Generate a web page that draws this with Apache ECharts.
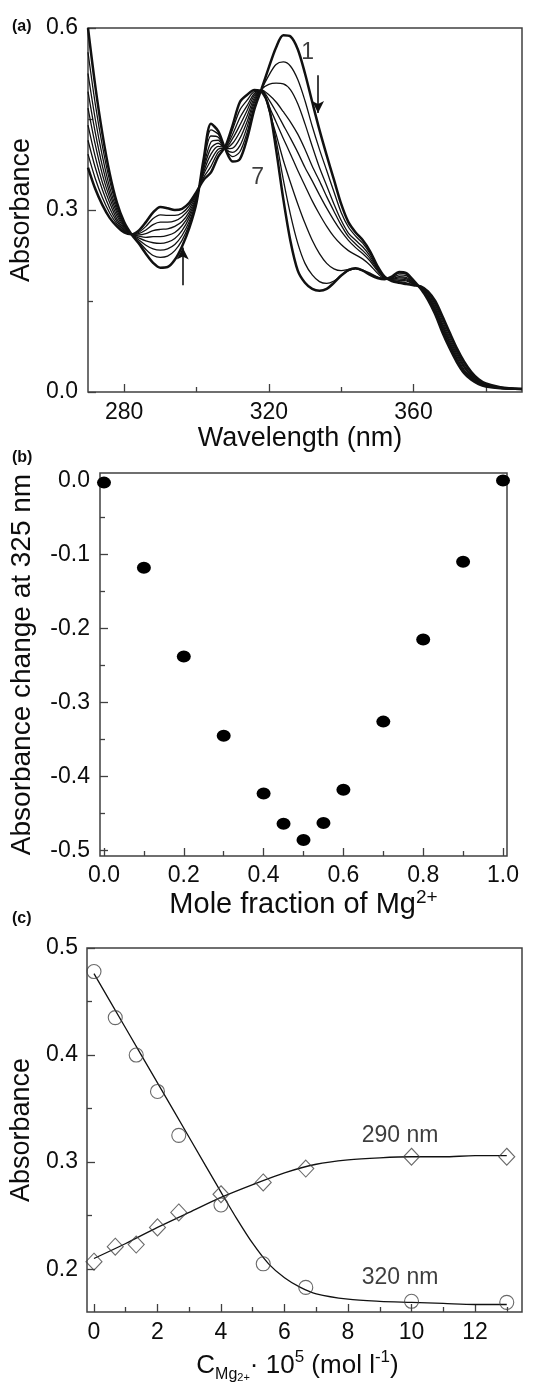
<!DOCTYPE html>
<html><head><meta charset="utf-8">
<script src="https://cdn.jsdelivr.net/npm/echarts@6/dist/echarts.min.js"></script>
<style>html,body{margin:0;padding:0;background:#fff}#c{width:536px;height:1387px}</style>
</head><body><div id="c"></div>
<script>
// ---------- Panel (a): UV-Vis spectra ----------
const wl = [270,272,274,276,278,280,282,284,286,288,290,292,294,296,298,300,302,304,306,308,310,312,314,316,318,320,322,324,326,328,330,332,334,336,338,340,342,344,346,348,350,352,354,356,358,360,362,364,366,368,370,372,374,376,378,380,384,390];
const spec1 = [.600,.505,.425,.360,.312,.280,.260,.245,.228,.213, .205,.206,.218,.240,.270,.312,.385,.442,.430,.400, .380,.384,.418,.466,.500,.535,.568,.588,.586,.565, .525,.478,.432,.390,.350,.310,.280,.263,.250,.232, .208,.190,.183,.180,.178,.176,.174,.166,.150,.125, .098,.072,.050,.033,.021,.014, .008,.005];
const spec2 = [.560,.475,.405,.348,.305,.277,.260,.248,.235,.225, .222,.224,.233,.250,.276,.314,.381,.432,.425,.400, .388,.396,.428,.472,.499,.522,.540,.544,.537,.515, .480,.438,.400,.365,.330,.296,.272,.257,.245,.228, .206,.189,.184,.182,.180,.177,.174,.164,.147,.121, .094,.068,.047,.031,.020,.013, .008,.005];
const spec3 = [.525,.450,.388,.337,.300,.275,.260,.251,.242,.236, .234,.236,.243,.258,.281,.316,.377,.422,.420,.401, .395,.406,.437,.477,.499,.507,.509,.508,.498,.475, .442,.405,.370,.340,.310,.283,.262,.250,.239,.224, .204,.188,.185,.184,.183,.178,.173,.163,.144,.117, .090,.065,.044,.029,.019,.013, .007,.005];
const spec4 = [.495,.428,.372,.328,.295,.273,.260,.254,.249,.246, .245,.247,.253,.266,.287,.318,.372,.412,.415,.401, .402,.418,.446,.481,.498,.490,.478,.462,.445,.425, .400,.372,.348,.322,.298,.275,.256,.244,.233,.220, .202,.188,.186,.186,.185,.178,.173,.161,.141,.113, .086,.062,.042,.027,.018,.012, .007,.005];
const spec5 = [.468,.408,.358,.320,.290,.271,.260,.257,.255,.256, .256,.258,.263,.274,.292,.320,.368,.402,.410,.402, .410,.429,.455,.485,.498,.482,.462,.440,.418,.395, .370,.348,.325,.303,.283,.265,.250,.238,.228,.216, .200,.188,.186,.188,.187,.179,.172,.159,.138,.110, .083,.059,.040,.026,.017,.011, .007,.005];
const spec6 = [.440,.388,.345,.312,.285,.269,.260,.259,.261,.266, .268,.269,.273,.281,.297,.322,.363,.392,.405,.403, .418,.440,.464,.489,.497,.472,.445,.418,.392,.365, .340,.315,.293,.273,.256,.243,.233,.226,.219,.209, .196,.187,.187,.190,.189,.180,.172,.158,.136,.107, .080,.056,.037,.024,.016,.011, .006,.005];
const spec7 = [.415,.370,.333,.303,.281,.267,.260,.261,.267,.276, .280,.280,.282,.289,.302,.325,.359,.382,.400,.403, .425,.452,.472,.492,.497,.465,.425,.382,.345,.310, .278,.250,.228,.212,.203,.200,.202,.204,.201,.196, .190,.186,.188,.193,.192,.181,.171,.156,.133,.104, .077,.054,.035,.023,.015,.010, .006,.005];
const spec8 = [.392,.352,.320,.295,.277,.265,.260,.263,.273,.286, .292,.291,.291,.295,.307,.327,.354,.372,.395,.404, .433,.465,.481,.495,.496,.468,.415,.350,.292,.245, .212,.193,.182,.179,.183,.192,.200,.203,.200,.194, .189,.186,.189,.196,.194,.182,.171,.154,.131,.101, .075,.051,.033,.021,.014,.010, .006,.005];
const spec9 = [.370,.335,.308,.287,.273,.263,.260,.266,.280,.296, .305,.303,.300,.302,.312,.330,.350,.362,.388,.405, .440,.478,.490,.498,.495,.470,.400,.318,.248,.200, .180,.170,.167,.170,.180,.192,.201,.204,.200,.193, .188,.186,.190,.198,.196,.184,.170,.152,.128,.098, .072,.049,.031,.020,.013,.009, .006,.005];
const wlMajor = [280, 320, 360];
const wlMinor = [300, 340, 380];
const absMajorA = [0, 0.3, 0.6];
const absMinorA = [0.15, 0.45];

// ---------- Panel (b): Job plot ----------
const molFrac = [0, 0.1, 0.2, 0.3, 0.4, 0.45, 0.5, 0.55, 0.6, 0.7, 0.8, 0.9, 1.0];
const absChange = [-0.003, -0.118, -0.238, -0.345, -0.423, -0.464, -0.486, -0.463, -0.418, -0.326, -0.215, -0.110, 0.0];
const fracMajor = [0, 0.2, 0.4, 0.6, 0.8, 1.0];
const fracMinor = [0.1, 0.3, 0.5, 0.7, 0.9];
const dMajor = [0, -0.1, -0.2, -0.3, -0.4, -0.5];
const dMinor = [-0.05, -0.15, -0.25, -0.35, -0.45];

// ---------- Panel (c): titration ----------
const concMg = [0, 0.67, 1.33, 2, 2.67, 4, 5.33, 6.67, 10, 13];
const abs320 = [0.478, 0.435, 0.400, 0.366, 0.325, 0.260, 0.205, 0.183, 0.170, 0.169];
const abs290 = [0.207, 0.221, 0.223, 0.239, 0.253, 0.270, 0.281, 0.294, 0.305, 0.305];
const fit320X = [0, 1, 2, 3, 4, 4.5, 5, 5.5, 6, 6.5, 7, 8, 9, 10, 11, 12, 13];
const fit320Y = [0.476, 0.425, 0.374, 0.323, 0.272, 0.247, 0.224, 0.205, 0.192, 0.183, 0.177, 0.172, 0.170, 0.169, 0.168, 0.167, 0.167];
const fit290X = [0, 1, 2, 3, 4, 5, 6, 7, 8, 9, 10, 11, 12, 13];
const fit290Y = [0.210, 0.224, 0.239, 0.253, 0.267, 0.279, 0.290, 0.298, 0.302, 0.304, 0.305, 0.305, 0.306, 0.306];
const concMajor = [0, 2, 4, 6, 8, 10, 12];
const concMinor = [1, 3, 5, 7, 9, 11, 13];
const absMajorC = [0.2, 0.3, 0.4, 0.5];
const absMinorC = [0.25, 0.35, 0.45];

const FONT = '"Liberation Sans", Arial, Helvetica, sans-serif';
const INK = '#0d0d0d';
const FRAME = '#404040';

function majorAxis(o) {
  return Object.assign({
    type: 'value', axisLine: {show: false, onZero: false}, splitLine: {show: false},
    axisTick: {inside: true, length: 8, customValues: o.ticks, lineStyle: {color: FRAME, width: 1.3}},
    axisLabel: {customValues: o.ticks, fontSize: 23, color: INK, fontFamily: FONT, margin: o.margin || 9,
      formatter: o.fmt},
    nameTextStyle: {fontSize: 27, color: INK, fontFamily: FONT}
  }, o.extra);
}
function minorAxis(o) {
  return Object.assign({
    type: 'value', axisLine: {show: false, onZero: false}, splitLine: {show: false},
    axisTick: {inside: true, length: 5, customValues: o.ticks, lineStyle: {color: FRAME, width: 1.3}},
    axisLabel: {show: false}
  }, o.extra);
}
const f1 = v => v.toFixed(1);
const f0 = v => String(Math.round(v));

const xAxis = [
  majorAxis({ticks: wlMajor, fmt: f0, extra: {gridIndex: 0, min: 270, max: 390, position: 'bottom',
    name: 'Wavelength (nm)', nameLocation: 'middle', nameGap: 31}}),
  minorAxis({ticks: wlMinor, extra: {gridIndex: 0, min: 270, max: 390, position: 'bottom'}}),
  majorAxis({ticks: fracMajor, fmt: f1, margin: 8, extra: {gridIndex: 1, min: -0.01, max: 1.01, position: 'bottom',
    name: 'Mole fraction of Mg{sup|2+}', nameLocation: 'middle', nameGap: 31}}),
  minorAxis({ticks: fracMinor, extra: {gridIndex: 1, min: -0.01, max: 1.01, position: 'bottom'}}),
  majorAxis({ticks: concMajor, fmt: f0, extra: {gridIndex: 2, min: -0.22, max: 13.48, position: 'bottom',
    name: '{b|C}{sub|Mg}{subsup|2+}{b|· 10}{sup|5}{b| (mol l}{sup|-1}{b|)}', nameLocation: 'middle', nameGap: 37}}),
  minorAxis({ticks: concMinor, extra: {gridIndex: 2, min: -0.22, max: 13.48, position: 'bottom'}})
];
xAxis[0].nameTextStyle.padding = [0, 10, 0, 0];
xAxis[2].nameTextStyle.fontSize = 29;
xAxis[2].nameTextStyle.lineHeight = 34;
xAxis[2].nameTextStyle.rich = {sup: {fontSize: 19, verticalAlign: 'top', lineHeight: 18, color: INK, fontFamily: FONT}};
xAxis[4].nameTextStyle = {fontSize: 26, color: INK, fontFamily: FONT, lineHeight: 34, padding: [0, 14, 0, 0],
  rich: {
    b: {fontSize: 26, lineHeight: 34, color: INK, fontFamily: FONT},
    sub: {fontSize: 16, lineHeight: 16, verticalAlign: 'bottom', color: INK, fontFamily: FONT},
    subsup: {fontSize: 11, lineHeight: 30, verticalAlign: 'bottom', color: INK, fontFamily: FONT},
    sup: {fontSize: 17, lineHeight: 16, verticalAlign: 'top', color: INK, fontFamily: FONT}
  }};

const yAxis = [
  majorAxis({ticks: absMajorA, fmt: f1, margin: 10, extra: {gridIndex: 0, min: 0, max: 0.6, position: 'left',
    name: 'Absorbance', nameLocation: 'middle', nameRotate: 90, nameGap: 52}}),
  minorAxis({ticks: absMinorA, extra: {gridIndex: 0, min: 0, max: 0.6, position: 'left'}}),
  majorAxis({ticks: dMajor, fmt: f1, margin: 10, extra: {gridIndex: 1, min: -0.5076, max: 0.01, position: 'left',
    name: 'Absorbance change at 325 nm', nameLocation: 'middle', nameRotate: 90, nameGap: 64}}),
  minorAxis({ticks: dMinor, extra: {gridIndex: 1, min: -0.5076, max: 0.01, position: 'left'}}),
  majorAxis({ticks: absMajorC, fmt: f1, margin: 9, extra: {gridIndex: 2, min: 0.16, max: 0.5, position: 'left',
    name: 'Absorbance', nameLocation: 'middle', nameRotate: 90, nameGap: 51}}),
  minorAxis({ticks: absMinorC, extra: {gridIndex: 2, min: 0.16, max: 0.5, position: 'left'}})
];
yAxis[2].nameTextStyle.fontSize = 28;

const specs = [spec1, spec2, spec3, spec4, spec5, spec6, spec7, spec8, spec9];
const series = specs.map((s, k) => ({
  type: 'line', xAxisIndex: 0, yAxisIndex: 0, showSymbol: false, symbol: 'none',
  smooth: 0.3, silent: true,
  data: wl.map((w, i) => [w, s[i]]),
  lineStyle: {color: '#111', width: (k === 0 || k === specs.length - 1) ? 2.5 : 1.3},
  z: (k === 0 || k === specs.length - 1) ? 3 : 2
}));
// annotations in (a)
series.push({
  type: 'scatter', xAxisIndex: 0, yAxisIndex: 0, symbolSize: 0, silent: true,
  data: [{name: '1', value: [330.7, 0.559]}, {name: '7', value: [316.9, 0.354]}],
  label: {show: true, position: 'inside', formatter: '{b}', fontSize: 23, color: INK, fontFamily: FONT},
  markLine: {
    silent: true, symbol: ['none', 'arrow'], symbolSize: [9, 12], label: {show: false},
    lineStyle: {color: '#111', width: 1.6, type: 'solid'},
    data: [
      [{coord: [333.6, 0.522]}, {coord: [333.6, 0.460]}],
      [{coord: [296.2, 0.176]}, {coord: [296.2, 0.238]}]
    ]
  }
});
// panel (b)
series.push({
  type: 'scatter', xAxisIndex: 2, yAxisIndex: 2, clip: false, symbol: 'circle', symbolSize: [14, 12],
  itemStyle: {color: '#000', opacity: 1}, data: molFrac.map((x, i) => [x, absChange[i]])
});
// panel (c)
series.push({
  type: 'line', xAxisIndex: 4, yAxisIndex: 4, symbol: 'none', smooth: 0.3,
  lineStyle: {color: '#111', width: 1.3}, data: fit320X.map((x, i) => [x, fit320Y[i]])
});
series.push({
  type: 'line', xAxisIndex: 4, yAxisIndex: 4, symbol: 'none', smooth: 0.3,
  lineStyle: {color: '#111', width: 1.3}, data: fit290X.map((x, i) => [x, fit290Y[i]])
});
series.push({
  type: 'scatter', xAxisIndex: 4, yAxisIndex: 4, clip: false, symbol: 'circle', symbolSize: 14,
  itemStyle: {color: 'rgba(0,0,0,0)', borderColor: '#444', borderWidth: 1.1},
  data: concMg.map((x, i) => [x, abs320[i]]), z: 4
});
series.push({
  type: 'scatter', xAxisIndex: 4, yAxisIndex: 4, clip: false, symbol: 'diamond', symbolSize: [16, 17],
  itemStyle: {color: 'rgba(0,0,0,0)', borderColor: '#444', borderWidth: 1.1},
  data: concMg.map((x, i) => [x, abs290[i]]), z: 4
});
series.push({
  type: 'scatter', xAxisIndex: 4, yAxisIndex: 4, symbolSize: 0, silent: true,
  data: [{name: '290 nm', value: [9.64, 0.325]}, {name: '320 nm', value: [9.64, 0.192]}],
  label: {show: true, position: 'inside', formatter: '{b}', fontSize: 23, color: INK, fontFamily: FONT}
});

const gridStyle = {show: true, borderColor: FRAME, borderWidth: 1.5, backgroundColor: 'transparent', containLabel: false};
const option = {
  animation: false,
  backgroundColor: '#fff',
  grid: [
    Object.assign({left: 88, top: 28, width: 434, height: 364}, gridStyle),
    Object.assign({left: 99, top: 473, width: 408, height: 383}, gridStyle),
    Object.assign({left: 87, top: 948, width: 435, height: 364}, gridStyle)
  ],
  xAxis, yAxis, series,
  graphic: [
    {type: 'text', left: 12, top: 19, style: {text: '(a)', font: 'bold 16px ' + FONT, fill: INK}},
    {type: 'text', left: 12, top: 450, style: {text: '(b)', font: 'bold 16px ' + FONT, fill: INK}},
    {type: 'text', left: 12, top: 911, style: {text: '(c)', font: 'bold 16px ' + FONT, fill: INK}}
  ]
};
const chart = echarts.init(document.getElementById('c'), null, {renderer: 'canvas'});
chart.setOption(option);
</script></body></html>
